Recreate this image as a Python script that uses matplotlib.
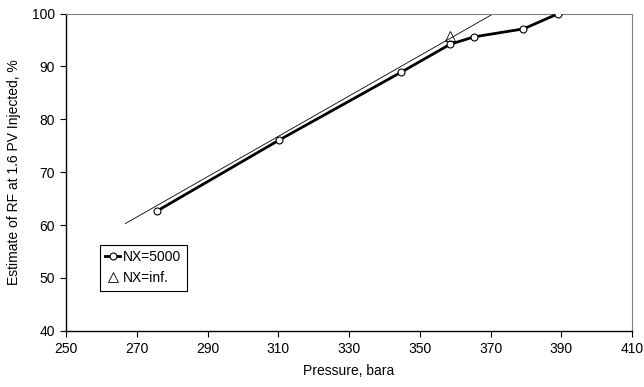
import matplotlib.pyplot as plt

plt.rcParams['font.family'] = ['Liberation Sans', 'DejaVu Sans']

# NX=5000 series
pressure = [275.8, 310.3, 344.7, 358.6, 365.4, 379.3, 389.2]
rf_5000 = [62.7, 76.1, 88.9, 94.2, 95.6, 97.1, 100.0]

# NX=inf. point
pressure_inf = [358.6]
rf_inf = [95.8]

# trend line end points
trend_p = [266.8, 371.4]
trend_rf = [60.3, 100.2]

fig = plt.figure(figsize=(6.44, 3.87), dpi=100)
ax = fig.add_axes([0.1025, 0.145, 0.879, 0.82])

ax.plot(trend_p, trend_rf, color='black', lw=0.6, zorder=2)
ax.plot(pressure, rf_5000, color='black', lw=2.0, marker='o', markersize=5,
        markerfacecolor='white', markeredgecolor='black', markeredgewidth=0.8,
        label='NX=5000', zorder=3)
ax.plot(pressure_inf, rf_inf, ls='none', marker='^', markersize=6.5,
        markerfacecolor='none', markeredgecolor='black', markeredgewidth=0.6,
        label='NX=inf.', zorder=4)

ax.set_xlim(250, 410)
ax.set_ylim(40, 100)
ax.set_xticks(range(250, 411, 20))
ax.set_yticks(range(40, 101, 10))
ax.tick_params(labelsize=10, direction='out', length=4, width=0.8, pad=4)

ax.spines['top'].set_color('#808080')
ax.spines['right'].set_color('#808080')
for s in ['top', 'right']:
    ax.spines[s].set_linewidth(0.8)
for s in ['left', 'bottom']:
    ax.spines[s].set_linewidth(1.0)

ax.set_xlabel('Pressure, bara', fontsize=10, labelpad=6)
ax.set_ylabel('Estimate of RF at 1.6 PV Injected, %', fontsize=10, labelpad=8)

leg = ax.legend(loc='lower left', bbox_to_anchor=(0.047, 0.105), fontsize=10,
                handlelength=1.1, handletextpad=0.2, borderpad=0.4,
                labelspacing=0.5, fancybox=False, framealpha=1)
leg.get_frame().set_edgecolor('black')
leg.get_frame().set_linewidth(0.8)

plt.savefig('out.png', dpi=100)
